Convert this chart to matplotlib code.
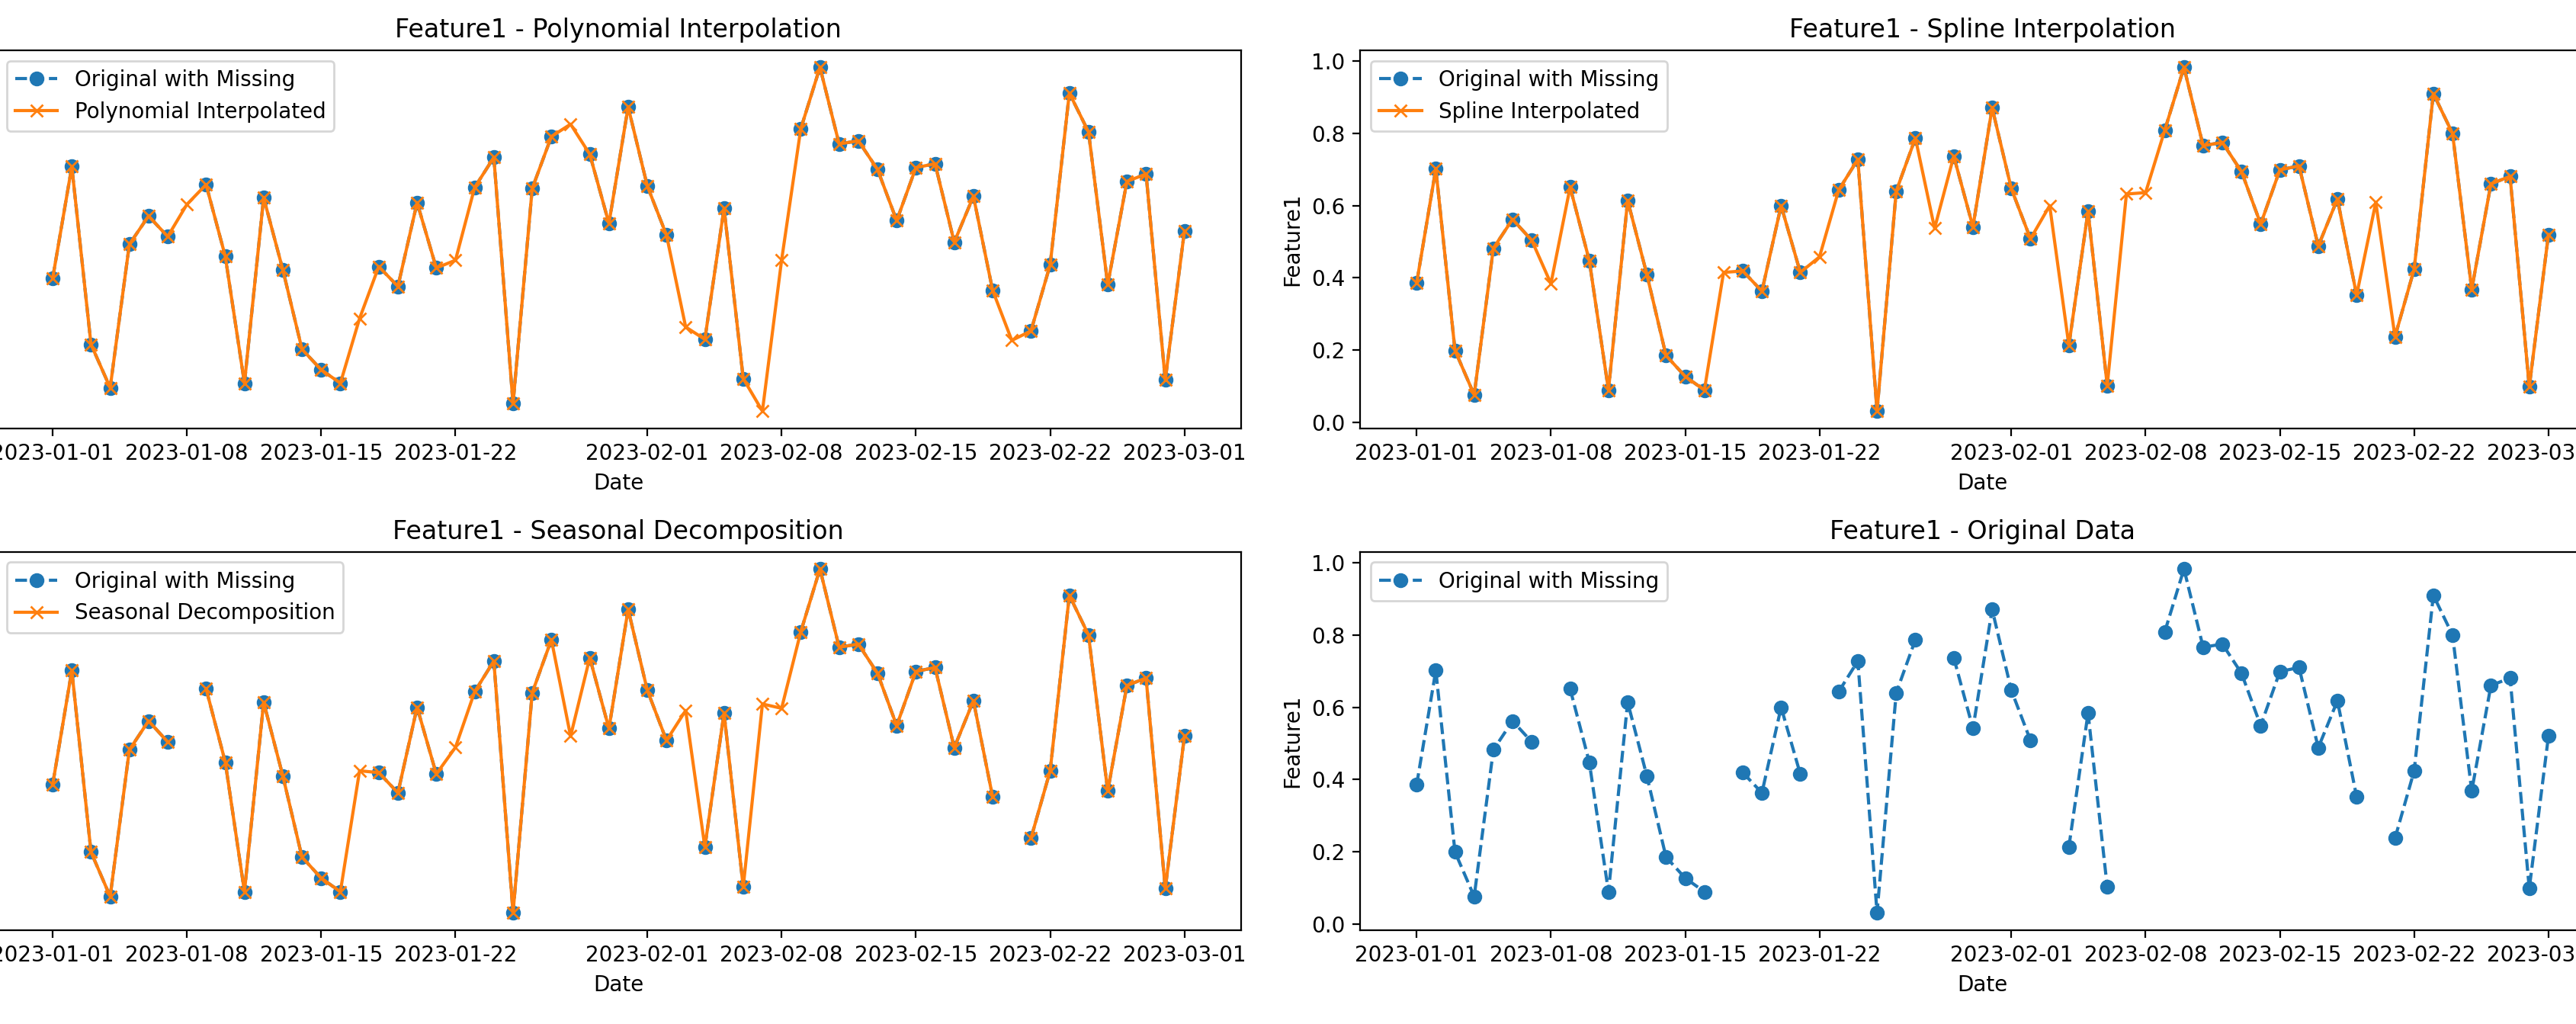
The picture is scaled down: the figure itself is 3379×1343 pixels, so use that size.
import numpy as np
import pandas as pd
import matplotlib
matplotlib.use("Agg")
import matplotlib.pyplot as plt

# ---- data ----
dates = pd.date_range("2023-01-01", "2023-03-01", freq="D")
nan = np.nan
original = [
    0.385, 0.702, 0.199, 0.076, 0.482, 0.562, 0.504, nan,
    0.651, 0.448, 0.089, 0.614, 0.410, 0.185, 0.127, 0.089, nan,
    0.419, 0.363, 0.600, 0.415, nan,
    0.643, 0.728, 0.031, 0.640, 0.787, nan,
    0.737, 0.541, 0.871,
    0.647, 0.508, nan,
    0.213, 0.584, 0.102, nan, nan,
    0.809, 0.983, 0.766, 0.775, 0.694, 0.549, 0.699, 0.710, 0.488, 0.618, 0.352, nan,
    0.237, 0.424, 0.910, 0.800, 0.368, 0.660, 0.681, 0.098,
    0.520,
]
missing_dates = ["2023-01-08", "2023-01-17", "2023-01-22", "2023-01-28",
                 "2023-02-03", "2023-02-07", "2023-02-08", "2023-02-20"]
poly_fill = [0.595, 0.272, 0.437, 0.822, 0.248, 0.010, 0.437, 0.210]
spline_fill = [0.384, 0.415, 0.458, 0.537, 0.600, 0.632, 0.636, 0.609]
seasonal_fill = [nan, 0.424, 0.489, 0.520, 0.591, 0.609, 0.597, nan]

orig = pd.Series(original, index=dates)


def filled(fill):
    s = orig.copy()
    s.loc[pd.to_datetime(missing_dates)] = fill
    return s


poly = filled(poly_fill)
spline = filled(spline_fill)
seasonal = filled(seasonal_fill)

# ---- figure ----
W, H = 3380, 1343
DPI = 200
fig = plt.figure(figsize=(W / DPI, H / DPI), dpi=DPI)


def rect(left, top, width, height):
    return [left / W, 1 - (top + height) / H, width / W, height / H]


aw, ah = 1633.1, 496.0
ax_tl = fig.add_axes(rect(-5.2, 65.7, aw, ah))
ax_tr = fig.add_axes(rect(1784.0, 65.7, aw, ah))
ax_bl = fig.add_axes(rect(-5.2, 723.6, aw, ah))
ax_br = fig.add_axes(rect(1784.0, 723.6, aw, ah))

panels = [
    (ax_tl, poly, "Polynomial Interpolated", "Feature1 - Polynomial Interpolation"),
    (ax_tr, spline, "Spline Interpolated", "Feature1 - Spline Interpolation"),
    (ax_bl, seasonal, "Seasonal Decomposition", "Feature1 - Seasonal Decomposition"),
]
for ax, series, label, title in panels:
    ax.plot(orig.index, orig.values, "o--", color="C0", label="Original with Missing")
    ax.plot(series.index, series.values, "x-", color="C1", label=label)
    ax.set_title(title)
    ax.set_xlabel("Date")
    ax.legend(loc="upper left")

ax_br.plot(orig.index, orig.values, "o--", color="C0", label="Original with Missing")
ax_br.set_title("Feature1 - Original Data")
ax_br.set_xlabel("Date")
ax_br.legend(loc="upper left")

# right-column panels show their y axis; the left column's y axis lies outside the canvas
for ax in (ax_tr, ax_br):
    ax.set_ylabel("Feature1")
for ax in (ax_tl, ax_bl):
    ax.tick_params(axis="y", labelleft=False)

fig.savefig("out.png", dpi=DPI)
